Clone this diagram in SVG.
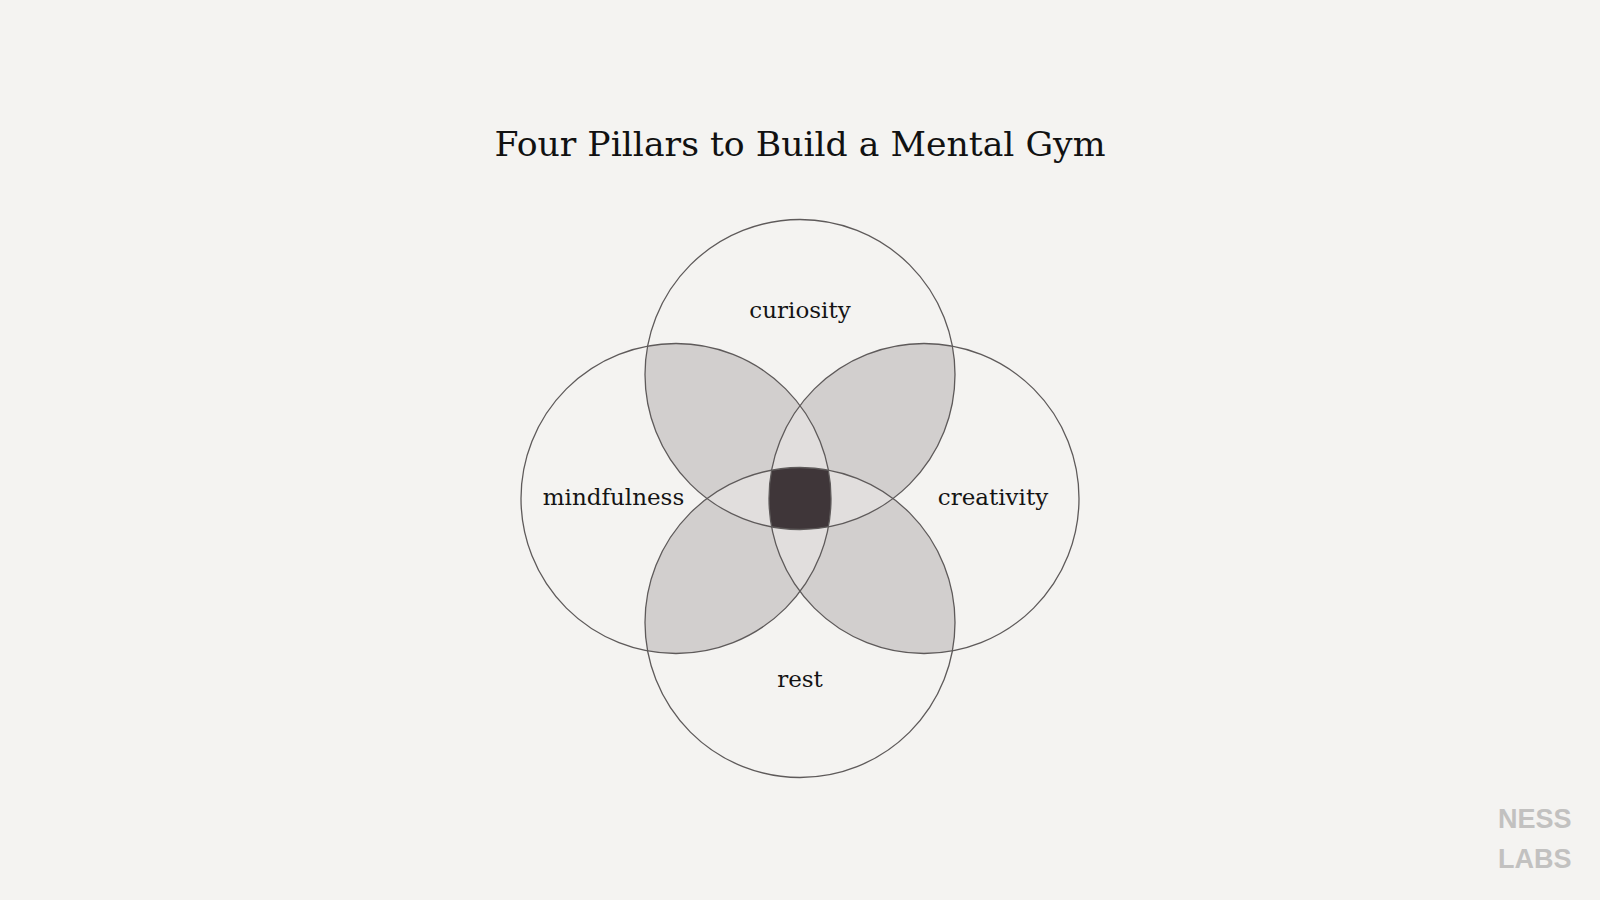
<svg xmlns="http://www.w3.org/2000/svg" width="1600" height="900" viewBox="0 0 1600 900">
<style>
.lbl{font-family:"DejaVu Serif","Liberation Serif",serif;font-size:23px;fill:#141414;text-anchor:middle}
.ring{fill:none;stroke:#5e5a5a;stroke-width:1.3}
.petal{fill:#d2cfce}
.tri{fill:#e1dedd}
.quad{fill:#3f3639}
.brand{font-family:"Liberation Sans",Arial,sans-serif;font-weight:bold;font-size:27px;fill:#c2c1c0}
</style>
<defs>
<clipPath id="cT"><circle cx="800" cy="374.5" r="155"/></clipPath>
<clipPath id="cB"><circle cx="800" cy="622.5" r="155"/></clipPath>
<clipPath id="cL"><circle cx="676" cy="498.5" r="155"/></clipPath>
<clipPath id="cR"><circle cx="924" cy="498.5" r="155"/></clipPath>
</defs>
<rect width="1600" height="900" fill="#f4f3f1"/>
<text x="800" y="156" font-family="DejaVu Serif,'Liberation Serif',serif" font-size="34" fill="#111" text-anchor="middle" textLength="611" lengthAdjust="spacingAndGlyphs">Four Pillars to Build a Mental Gym</text>
<g id="overlaps">
<g clip-path="url(#cT)"><circle class="petal" cx="676" cy="498.5" r="155"/><circle class="petal" cx="924" cy="498.5" r="155"/></g>
<g clip-path="url(#cB)"><circle class="petal" cx="676" cy="498.5" r="155"/><circle class="petal" cx="924" cy="498.5" r="155"/></g>
<g clip-path="url(#cL)"><circle class="tri" cx="924" cy="498.5" r="155"/></g>
<g clip-path="url(#cT)"><circle class="tri" cx="800" cy="622.5" r="155"/></g>
<g clip-path="url(#cL)"><g clip-path="url(#cR)"><g clip-path="url(#cT)"><rect class="quad" x="700" y="400" width="200" height="200" clip-path="url(#cB)"/></g></g></g>
</g>
<g id="curiosity"><circle class="ring" cx="800" cy="374.5" r="155"/><text class="lbl" x="800" y="318">curiosity</text></g>
<g id="mindfulness"><circle class="ring" cx="676" cy="498.5" r="155"/><text class="lbl" x="613.5" y="505">mindfulness</text></g>
<g id="creativity"><circle class="ring" cx="924" cy="498.5" r="155"/><text class="lbl" x="993" y="505">creativity</text></g>
<g id="rest"><circle class="ring" cx="800" cy="622.5" r="155"/><text class="lbl" x="800" y="687">rest</text></g>
<g id="connectors"></g>
<text class="brand" x="1498" y="828">NESS</text>
<text class="brand" x="1498" y="868">LABS</text>
</svg>
